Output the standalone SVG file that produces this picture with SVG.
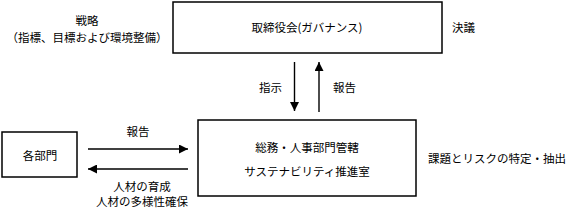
<svg xmlns="http://www.w3.org/2000/svg" width="572" height="211" viewBox="0 0 572 211">
<style>
.box{fill:#fff;stroke:#000;stroke-width:1.5}
.t{font-family:"Noto Sans CJK JP","Liberation Serif",serif;font-size:11.5px;fill:#000;dominant-baseline:central}
.m{text-anchor:middle}
.c{stroke:#000;stroke-width:1.4;fill:none}
</style>
<defs>
<marker id="ah" viewBox="0 0 10 10" refX="10" refY="5" markerWidth="9" markerHeight="9" markerUnits="userSpaceOnUse" orient="auto">
<path d="M0,0 L10,5 L0,10 z" fill="#000"/>
</marker>
</defs>
<g id="labels">
<text class="t m" x="87" y="20">戦略</text>
<text class="t m" x="87" y="37">（指標、目標および環境整備）</text>
<text class="t" x="452" y="27">決議</text>
<text class="t" x="259" y="87">指示</text>
<text class="t" x="333" y="87">報告</text>
<text class="t m" x="138" y="131">報告</text>
<text class="t m" x="142" y="186">人材の育成</text>
<text class="t m" x="142" y="201">人材の多様性確保</text>
<text class="t" x="428" y="158">課題とリスクの特定・抽出</text>
</g>
<g id="board">
<rect class="box" x="173" y="2" width="269" height="51"/>
<text class="t m" x="307" y="27">取締役会(ガバナンス)</text>
</g>
<g id="office">
<rect class="box" x="198" y="120" width="218" height="76"/>
<text class="t m" x="307" y="147">総務・人事部門管轄</text>
<text class="t m" x="307" y="171">サステナビリティ推進室</text>
</g>
<g id="depts">
<rect class="box" x="2" y="132" width="75" height="45"/>
<text class="t m" x="40" y="155">各部門</text>
</g>
<g id="connectors">
<line class="c" x1="294.5" y1="62" x2="294.5" y2="111" marker-end="url(#ah)"/>
<line class="c" x1="319" y1="112" x2="319" y2="62" marker-end="url(#ah)"/>
<line class="c" x1="88" y1="149" x2="188" y2="149" marker-end="url(#ah)"/>
<line class="c" x1="188" y1="169" x2="88" y2="169" marker-end="url(#ah)"/>
</g>
</svg>
